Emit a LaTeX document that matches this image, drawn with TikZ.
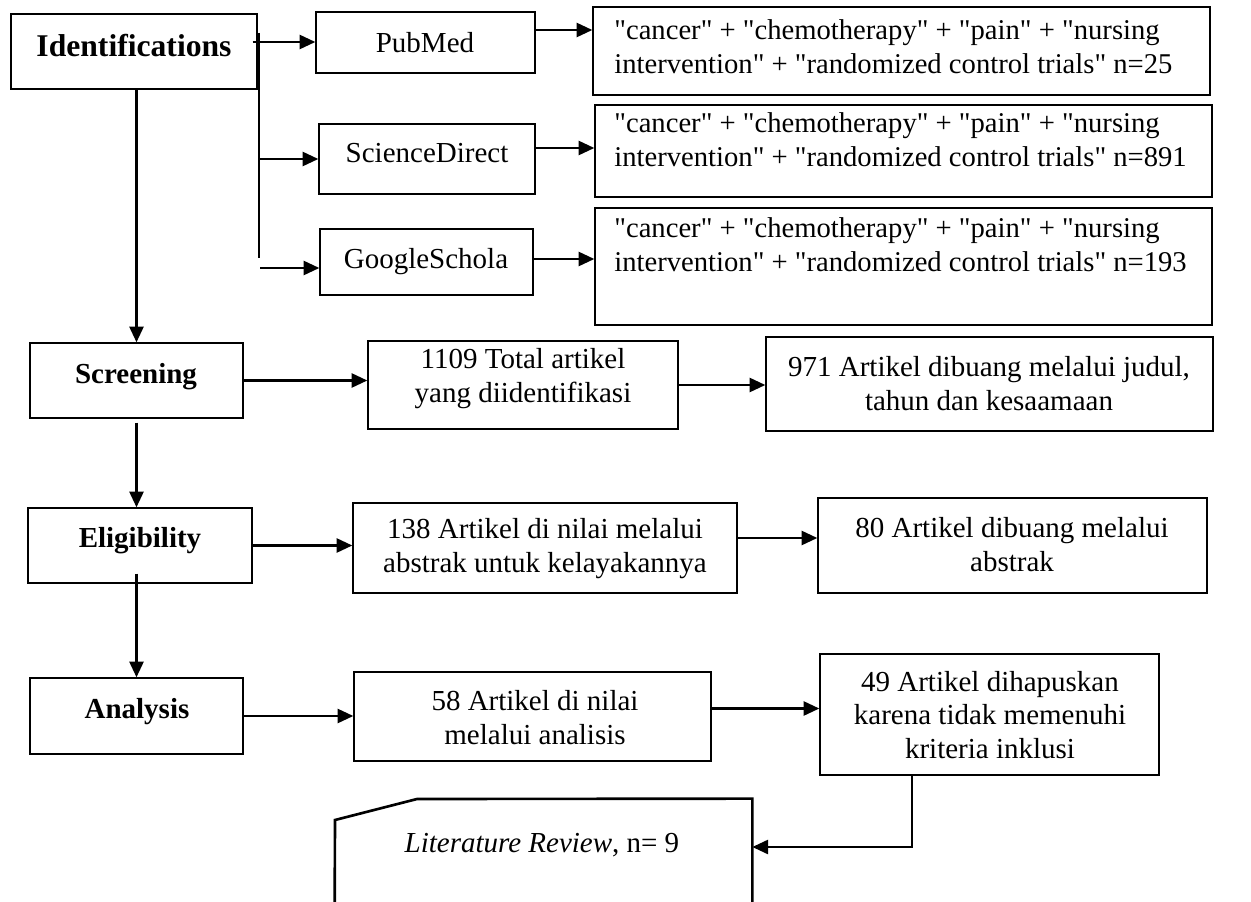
\documentclass[tikz,border=0pt]{standalone}
\usepackage{fontspec}
\setmainfont{Liberation Serif}
\newfontfamily\qfont{Liberation Serif}
\usetikzlibrary{arrows.meta,fit}

\tikzset{
  box/.style={draw, line width=0.75pt, inner sep=0pt},
  stage/.style={font=\fontsize{16.5}{19}\selectfont\bfseries, inner sep=0pt, text depth=0pt},
  src/.style={font=\fontsize{16.5}{19.3}\selectfont, inner sep=0pt, text depth=0pt},
  txt/.style={font=\fontsize{16.5}{19.3}\selectfont, inner sep=0pt, align=center},
  qtxt/.style={font=\fontsize{16.3}{19.3}\selectfont\qfont, inner sep=0pt, align=left, anchor=west},
  flow/.style={->, line width=1.5pt},
}

\begin{document}
\begin{tikzpicture}
  [x=0.02cm,y=-0.02cm,>={Triangle[length=9pt,width=8pt]}]
  \useasboundingbox (0,0) rectangle (1251,902);

  % stages
  \node[box, fit={(11,14) (257,89)}] (idf) {};
  \node[stage, font=\fontsize{18}{21}\selectfont\bfseries] (idftext) at (134,45) {Identifications};
  \node[box, fit={(30,343) (243,418)}] (scr) {};
  \node[stage] (scrtext) at (136,373) {Screening};
  \node[box, fit={(28,508) (252,583)}] (eli) {};
  \node[stage] (elitext) at (140,537) {Eligibility};
  \node[box, fit={(30,678) (243,754)}] (ana) {};
  \node[stage] (anatext) at (137,708) {Analysis};

  % sources
  \node[box, fit={(316,12) (535,73)}] (pub) {};
  \node[src] (pubtext) at (425,42) {PubMed};
  \node[box, fit={(319,124) (535,194)}] (sd) {};
  \node[src] (sdtext) at (427,153) {ScienceDirect};
  \node[box, fit={(320,229) (533,295)}] (gs) {};
  \node[src] (gstext) at (426,258) {GoogleSchola};

  % search strings
  \node[box, fit={(593,7) (1210,95)}] (q1) {};
  \node[qtxt] (q1text) at (614,47)
    {"cancer" + "chemotherapy" + "pain" + "nursing\\intervention" + "randomized control trials" n=25};
  \node[box, fit={(595,105) (1212,197)}] (q2) {};
  \node[qtxt] (q2text) at (614,140)
    {"cancer" + "chemotherapy" + "pain" + "nursing\\intervention" + "randomized control trials" n=891};
  \node[box, fit={(595,208) (1212,325)}] (q3) {};
  \node[qtxt] (q3text) at (614,245)
    {"cancer" + "chemotherapy" + "pain" + "nursing\\intervention" + "randomized control trials" n=193};

  % results
  \node[box, fit={(368,341) (678,429)}] (tot) {};
  \node[txt] (tottext) at (523,379) {1109 Total artikel\\yang diidentifikasi};
  \node[box, fit={(766,337) (1213,431)}] (exc1) {};
  \node[txt] (exc1text) at (989,384) {971 Artikel dibuang melalui judul,\\tahun dan kesaamaan};
  \node[box, fit={(353,503) (737,593)}] (abs) {};
  \node[txt] (abstext) at (545,549) {138 Artikel di nilai melalui\\abstrak untuk kelayakannya};
  \node[box, fit={(818,498) (1207,593)}] (exc2) {};
  \node[txt] (exc2text) at (1012,545) {80 Artikel dibuang melalui\\abstrak};
  \node[box, fit={(354,672) (711,761)}] (anl) {};
  \node[txt] (anltext) at (535,718) {58 Artikel di nilai\\melalui analisis};
  \node[box, fit={(820,654) (1159,775)}] (exc3) {};
  \node[txt] (exc3text) at (990,715) {49 Artikel dihapuskan\\karena tidak memenuhi\\kriteria inklusi};
  \node[inner sep=0pt, fit={(335,799) (752,895)}] (lit) {};
  \node[src] (littext) at (542,843) {\textit{Literature Review}, n= 9};
  \draw[line width=1.5pt] (lit.west |- 0,910) -- (335,820) -- (417,799)
    -- (lit.north east) -- (lit.east |- 0,910);

  % connectors
  \coordinate (brtop) at (259,33);
  \coordinate (brbot) at (259,258);
  \coordinate (gsfrom) at (260,268);
  \draw[line width=1pt] (brtop) -- (brbot);
  \draw[flow] ([xshift=-.1cm,yshift=.19cm]idf.east) coordinate (i1) -- (i1 -| pub.west);
  \draw[flow] (brtop |- sd.west) -- (sd.west);
  \draw[flow] (gsfrom) -- (gsfrom -| gs.west);
\foreach \from/\to/\up in
{pub/q1/.25cm, sd/q2/.22cm, gs/q3/.06cm, abs/exc2/.2cm, anl/exc3/.16cm}
    \draw[flow] ([yshift=\up]\from.east) coordinate (a) -- (a -| \to.west);
\foreach \from/\to in
{scr/tot, tot/exc1, eli/abs, ana/anl}
    \draw[flow] (\from.east) -- (\from.east -| \to.west);
  \draw[flow] (idf.south -| scr.north) -- (scr.north);
  \draw[flow] ([yshift=-.08cm]scr.south) coordinate (s1) -- (s1 |- eli.north);
  \draw[flow] ([yshift=.2cm]eli.south -| ana.north) coordinate (e1) -- (e1 |- ana.north);
  \draw[flow] ([xshift=-1.55cm]exc3.south) |- (lit.east);

\end{tikzpicture}
\end{document}
